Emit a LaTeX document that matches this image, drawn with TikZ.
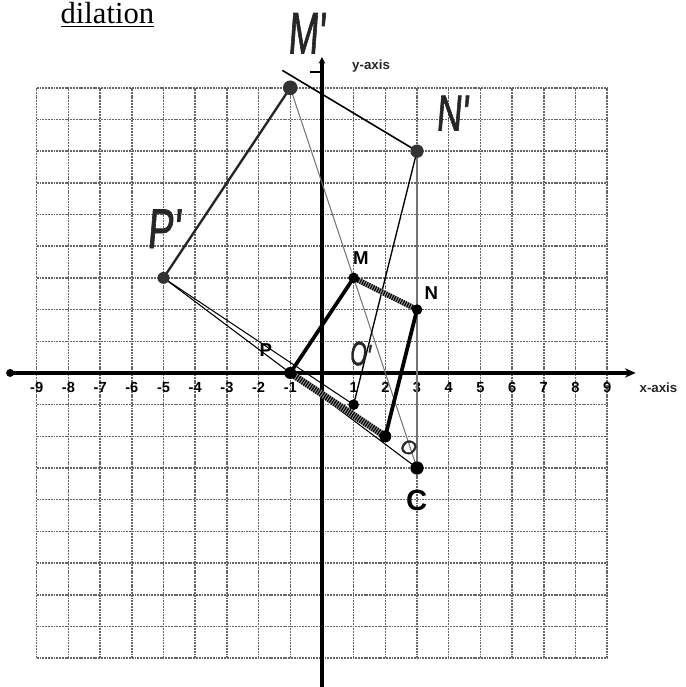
\documentclass[tikz,border=0pt]{standalone}
\usepackage{fontspec}
\setmainfont{Liberation Serif}
\newfontfamily\lsans{Liberation Sans}
\newfontfamily\handf{Liberation Sans}[FakeSlant=0.12, FakeBold=1.6]
\usetikzlibrary{arrows.meta}
\begin{document}
\begin{tikzpicture}[x=0.837cm,y=0.837cm,
  gridline/.style={draw=black!60, line width=1.1pt, dash pattern=on 1.4pt off 0.7pt},
  axisline/.style={line width=3pt, draw=black},
  quadside/.style={line width=2.8pt, line cap=round, line join=round},
  hatchband/.style={line width=#1, draw=black!40},
  hatchstripe/.style={line width=#1, draw=black, dash pattern=on 0.9pt off 0.9pt},
  imgthick/.style={line width=1.8pt, draw=black!85},
  raygray/.style={line width=0.8pt, draw=black!55},
  rayblack/.style={line width=0.8pt, draw=black},
  vdot/.style={circle, fill=black, inner sep=0pt, minimum size=#1},
  ticklab/.style={font=\lsans\bfseries\fontsize{11}{11}\selectfont, inner sep=0pt},
  axlab/.style={font=\lsans\bfseries\fontsize{10}{10}\selectfont, inner sep=0pt, text=black!85},
  hand/.style={font=\handf\fontsize{#1}{#1}\selectfont, text=black!85, inner sep=0pt},
  printed/.style={font=\lsans\bfseries\fontsize{14}{14}\selectfont, inner sep=0pt}
]
\useasboundingbox (-10.16,-9.91) rectangle (11.46,11.77);

% title
\node[font=\fontsize{23}{23}\selectfont, inner sep=0pt, anchor=base] (title) at (-6.77,11.02) {\underline{dilation}};

% grid
\foreach \k in {-9,...,9} {
  \draw[gridline] (\k,-9) -- (\k,9);
  \draw[gridline] (-9,\k) -- (9,\k);
}

% axes
\coordinate (xl) at (-9.84,0);
\coordinate (xr) at (9.9,0);
\coordinate (yb) at (0,-10);
\coordinate (yt) at (0,9.97);
\coordinate (ytl) at (-0.38,9.5);
\coordinate (ytr) at (0,9.5);
\draw[axisline, -{Stealth[length=8pt,width=7pt]}] (xl) -- (xr);
\fill (xl) circle (3pt);
\draw[axisline, -{Stealth[length=5pt,width=5pt]}] (yb) -- (yt);
\draw[line width=1pt] (ytl) -- (ytr);

\node[axlab] (xlab) at (10.62,-0.47) {x-axis};
\node[axlab] (ylab) at (1.55,9.68) {y-axis};

% tick labels
\foreach \i in {-9,-8,-7,-6,-5,-4,-3,-2,-1,1,2,3,4,5,6,7,8,9}
  \node[ticklab] (t\i) at (\i,-0.47) {\i};

% points
\coordinate (M) at (1,3);
\coordinate (N) at (3,2);
\coordinate (O) at (2,-2);
\coordinate (P) at (-1,0);
\coordinate (C) at (3,-3);
\coordinate (Mp) at (-1,9);
\coordinate (Np) at (3,7);
\coordinate (Pp) at (-5,3);
\coordinate (Op) at (1,-1);
\coordinate (Mx) at (-1.25,9.55);

% rays and image figure
\draw[raygray] (C) -- (Mp);
\draw[raygray] (C) -- (Np);
\draw[rayblack] (C) -- (Pp);
\draw[rayblack] (Op) -- (Pp);
\draw[rayblack, line width=1pt] (Op) -- (Np);
\draw[line width=1.2pt] (Mx) -- (Np);
\draw[imgthick] (Mp) -- (Pp);

% original quadrilateral
\draw[quadside] (P) -- (M);
\draw[quadside] (N) -- (O);
\draw[hatchband=4pt] (M) -- (N);
\draw[hatchstripe=4pt] (M) -- (N);
\draw[hatchband=5pt] (O) -- (P);
\draw[hatchstripe=5pt] (O) -- (P);

% dots
\node[vdot=8pt] (dM) at (M) {};
\node[vdot=8pt] (dN) at (N) {};
\node[vdot=9pt] (dO) at (O) {};
\node[vdot=9pt] (dP) at (P) {};
\node[vdot=10pt] (dC) at (C) {};
\node[vdot=8pt] (dOp) at (Op) {};
\node[vdot=11pt, fill=black!80] (dMp) at (Mp) {};
\node[vdot=10pt, fill=black!80] (dNp) at (Np) {};
\node[vdot=9pt, fill=black!80] (dPp) at (Pp) {};

% printed labels
\node[printed] (lM) at (1.23,3.63) {M};
\node[printed] (lN) at (3.45,2.52) {N};
\node[printed] (lP) at (-1.77,0.73) {P};

% handwritten labels
\node[hand=44, xscale=0.62] (lMp) at (-0.5,10.72) {M'};
\node[hand=38, xscale=0.7] (lNp) at (4.1,8.2) {N'};
\node[hand=42, xscale=0.7] (lPp) at (-5.0,4.55) {P'};
\node[hand=26, xscale=0.6, rotate=-10] (lOp) at (1.2,0.6) {O'};
\node[hand=15, rotate=-25] (lO) at (2.72,-2.34) {O};
\node[font=\lsans\bfseries\fontsize{22}{22}\selectfont, inner sep=0pt] (lC) at (2.99,-4.02) {C};
\end{tikzpicture}
\end{document}
